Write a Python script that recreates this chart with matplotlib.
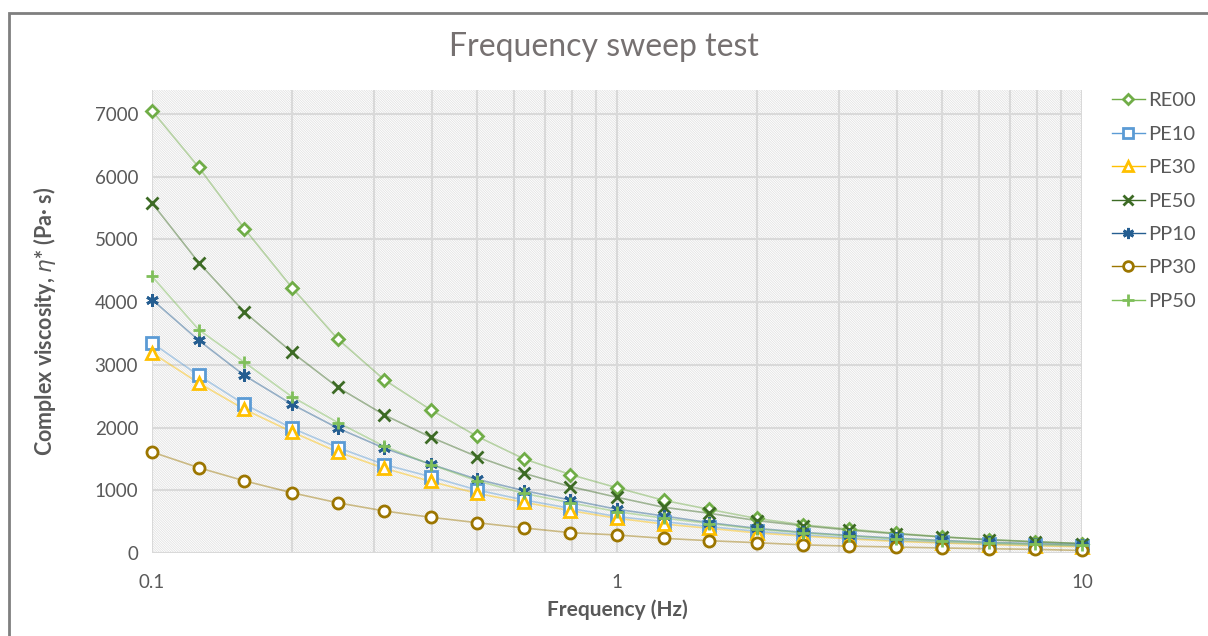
import matplotlib.pyplot as plt
from matplotlib.patches import Rectangle
from matplotlib.ticker import FixedLocator, NullFormatter

plt.rcParams['font.family'] = ['Lato', 'DejaVu Sans']
plt.rcParams['mathtext.fontset'] = 'dejavusans'
plt.rcParams['hatch.color'] = '#dedede'
plt.rcParams['hatch.linewidth'] = 0.5

# frequency points (Hz), 5 per decade
freq = [0.1, 0.126, 0.158, 0.2, 0.251, 0.316, 0.398, 0.5, 0.631, 0.794,
        1.0, 1.26, 1.58, 2.0, 2.51, 3.16, 3.98, 5.0, 6.31, 7.94, 10.0]

re00 = [7050, 6150, 5170, 4230, 3410, 2760, 2280, 1860, 1500, 1250,
        1040, 840, 695, 550, 450, 380, 315, 260, 215, 180, 150]
pe10 = [3350, 2830, 2370, 1990, 1680, 1410, 1215, 1005, 845, 712,
        580, 500, 420, 345, 290, 240, 200, 170, 145, 125, 110]
pe30 = [3190, 2710, 2290, 1930, 1610, 1350, 1140, 950, 808, 675,
        553, 462, 393, 320, 270, 225, 185, 160, 135, 115, 100]
pe50 = [5580, 4630, 3840, 3200, 2640, 2200, 1845, 1536, 1270, 1058,
        888, 729, 633, 516, 435, 365, 305, 255, 210, 178, 150]
pp10 = [4040, 3390, 2830, 2370, 1990, 1670, 1414, 1175, 994, 845,
        697, 590, 483, 393, 330, 280, 235, 200, 170, 150, 130]
pp30 = [1610, 1360, 1150, 960, 800, 670, 569, 483, 399, 324,
        287, 234, 196, 164, 130, 110, 95, 80, 68, 58, 40]
pp50 = [4410, 3560, 3040, 2490, 2080, 1700, 1410, 1150, 950, 800,
        660, 555, 470, 380, 320, 270, 225, 190, 160, 140, 120]

names = ['RE00', 'PE10', 'PE30', 'PE50', 'PP10', 'PP30', 'PP50']
series = [re00, pe10, pe30, pe50, pp10, pp30, pp50]
colors = ['#70ad47', '#5b9bd5', '#ffc000', '#3d6b25', '#255e91', '#9c7600', '#7fbf5a']
markers = ['D', 's', '^', 'x', (6, 2, 0), 'o', '+']
msizes = [6, 8, 8, 8, 9, 8, 9]

fig = plt.figure(figsize=(12.08, 6.36), dpi=100)
ax = fig.add_axes([152 / 1208, 1 - 553 / 636, 930 / 1208, 463 / 636])

# outer chart frame
fig.patches.append(Rectangle((9 / 1208, -0.1), 1.1, 1 - 13 / 636 + 0.1,
                             transform=fig.transFigure, fill=False,
                             edgecolor='#7f7f7f', linewidth=2))

# hatched plot area
ax.add_patch(Rectangle((0, 0), 1, 1, transform=ax.transAxes, facecolor='white',
                       edgecolor='#dedede', hatch='\\' * 14, linewidth=0, zorder=0))

for name, vals, c, m, ms in zip(names, series, colors, markers, msizes):
    ax.plot(freq, vals, color=c, alpha=0.45, linewidth=1.2, zorder=2, clip_on=False)
    ax.plot(freq, vals, linestyle='none', marker=m, markersize=ms, markerfacecolor='white'
            if m not in ('x', '+', (6, 2, 0)) else c, markeredgecolor=c,
            markeredgewidth=2, zorder=3, clip_on=False)
    # legend handle
    ax.plot([], [], color=c, linewidth=1.0, alpha=1, marker=m, markersize=ms - 1,
            markerfacecolor='white', markeredgecolor=c, markeredgewidth=2,
            label=name)

ax.set_xscale('log')
ax.set_xlim(0.1, 10)
ax.set_ylim(0, 7380)
ax.set_xticks([0.1, 1, 10])
ax.set_xticklabels(['0.1', '1', '10'])
ax.xaxis.set_minor_locator(FixedLocator([k * 10.0 ** e for e in (-1, 0) for k in range(2, 10)]))
ax.xaxis.set_minor_formatter(NullFormatter())
ax.set_yticks(range(0, 7001, 1000))
ax.grid(which='both', axis='x', color='#d9d9d9', linewidth=1.5, zorder=1)
ax.grid(which='major', axis='y', color='#d9d9d9', linewidth=1.5, zorder=1)
for gl in ax.get_xgridlines() + ax.get_ygridlines() + ax.xaxis.get_minorticklines():
    gl.set_zorder(1)
for s in ax.spines.values():
    s.set_visible(False)
ax.tick_params(which='both', length=0, labelsize=13.5, labelcolor='#595959')
ax.tick_params(axis='x', pad=15)
ax.tick_params(axis='y', pad=10)

ax.set_xlabel('Frequency (Hz)', fontsize=15, fontweight='bold', color='#595959', labelpad=6)
ax.set_ylabel('Complex viscosity, $\\eta$* (Pa· s)', fontsize=15.5, fontweight='bold',
              color='#595959', labelpad=26)
fig.text(0.5, 1 - 47 / 636, 'Frequency sweep test', ha='center', va='center',
         fontsize=23, color='#767171')

leg = ax.legend(loc='upper left', bbox_to_anchor=(1.032, 0.995), frameon=False,
                fontsize=14.5, labelspacing=0.81, handlelength=1.65, handletextpad=0.15,
                borderaxespad=0, borderpad=0)
for t in leg.get_texts():
    t.set_color('#595959')

fig.savefig('out.png', dpi=100)
